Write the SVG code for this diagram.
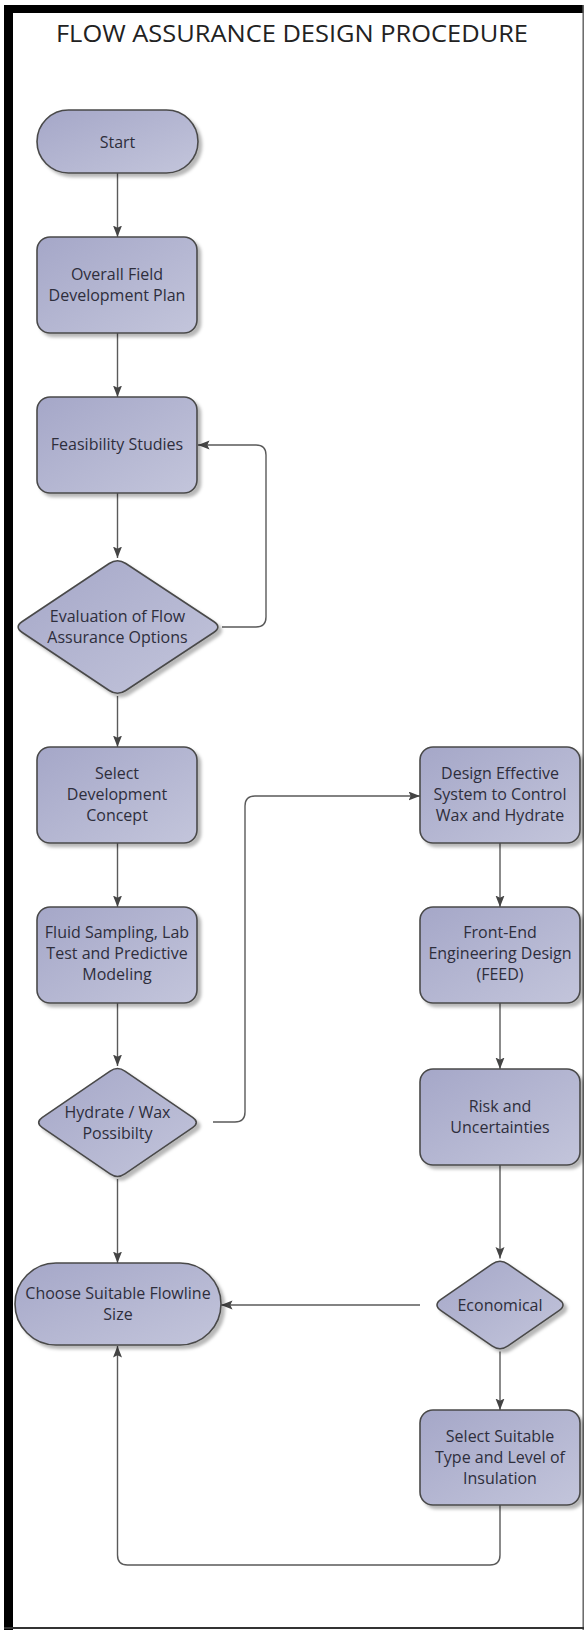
<svg xmlns="http://www.w3.org/2000/svg" width="584" height="1630" viewBox="0 0 584 1630">
<style>
.node{fill:url(#g);stroke:#4a4a4a;stroke-width:1.6;filter:url(#sh)}
.t{font-family:"Open Sans","DejaVu Sans",sans-serif;font-size:16px;fill:#2e2e3c;text-anchor:middle}
.c{fill:none;stroke:#5a5a5a;stroke-width:1.4}
.a{marker-end:url(#ah)}
</style>
<defs>
<linearGradient id="g" x1="0" y1="0" x2="1" y2="1">
<stop offset="0" stop-color="#a5a7c8"/>
<stop offset="1" stop-color="#c3c5db"/>
</linearGradient>
<filter id="sh" x="-10%" y="-10%" width="125%" height="130%">
<feDropShadow dx="3.5" dy="3.5" stdDeviation="1.8" flood-color="#000" flood-opacity="0.28"/>
</filter>
<marker id="ah" markerUnits="userSpaceOnUse" markerWidth="13" markerHeight="11" refX="11.5" refY="4.5" orient="auto">
<path d="M0,0 L11.5,4.5 L0,9 L2.2,4.5 Z" fill="#444"/>
</marker>
</defs>
<rect x="0" y="0" width="584" height="1630" fill="#fff"/>
<g id="frame">
<rect x="4" y="5" width="580" height="8" fill="#000"/>
<rect x="4" y="5" width="9" height="1625" fill="#000"/>
<line x1="583.2" y1="5" x2="583.2" y2="1630" stroke="#666" stroke-width="1.5"/>
<line x1="4" y1="1628" x2="584" y2="1628" stroke="#333" stroke-width="2"/>
</g>
<text id="title" x="292" y="41.7" font-family="'Open Sans','DejaVu Sans',sans-serif" font-size="24.5" fill="#222" text-anchor="middle" textLength="472" lengthAdjust="spacingAndGlyphs">FLOW ASSURANCE DESIGN PROCEDURE</text>
<g id="connectors">
<path class="c a" d="M117.5,173 V237"/>
<path class="c a" d="M117.5,333 V397"/>
<path class="c a" d="M117.5,493 V558"/>
<path class="c a" d="M222,627 H256 Q266,627 266,617 V455 Q266,445 256,445 H198"/>
<path class="c a" d="M117.5,696 V747"/>
<path class="c a" d="M117.5,843 V907"/>
<path class="c a" d="M117.5,1003 V1066"/>
<path class="c a" d="M213,1122 H235 Q245,1122 245,1112 V806 Q245,796 255,796 H420"/>
<path class="c a" d="M117.5,1179 V1263"/>
<path class="c a" d="M500,843 V907"/>
<path class="c a" d="M500,1003 V1069"/>
<path class="c a" d="M500,1165 V1258.5"/>
<path class="c a" d="M420,1305 H221"/>
<path class="c a" d="M500,1351.5 V1410"/>
<path class="c a" d="M500,1505 V1555 Q500,1565 490,1565 H127.5 Q117.5,1565 117.5,1555 V1346"/>
</g>
<g id="start">
<rect class="node" x="37" y="110" width="161" height="63" rx="31.5"/>
<text class="t" x="117.5" y="147.5">Start</text>
</g>
<g id="overall">
<rect class="node" x="37" y="237" width="160" height="96" rx="13"/>
<text class="t" x="117" y="280">Overall Field</text>
<text class="t" x="117" y="301">Development Plan</text>
</g>
<g id="feasibility">
<rect class="node" x="37" y="397" width="160" height="96" rx="13"/>
<text class="t" x="117" y="450">Feasibility Studies</text>
</g>
<g id="evaluation">
<path class="node" d="M109.2,563.5 Q117.5,558 125.8,563.5 L213.7,621.5 Q222,627 213.7,632.5 L125.8,690.5 Q117.5,696 109.2,690.5 L22.3,632.5 Q14,627 22.3,621.5 Z"/>
<text class="t" x="117.5" y="622">Evaluation of Flow</text>
<text class="t" x="117.5" y="643">Assurance Options</text>
</g>
<g id="select-concept">
<rect class="node" x="37" y="747" width="160" height="96" rx="13"/>
<text class="t" x="117" y="779">Select</text>
<text class="t" x="117" y="800">Development</text>
<text class="t" x="117" y="821">Concept</text>
</g>
<g id="fluid">
<rect class="node" x="37" y="907" width="160" height="96" rx="13"/>
<text class="t" x="117" y="938">Fluid Sampling, Lab</text>
<text class="t" x="117" y="959">Test and Predictive</text>
<text class="t" x="117" y="980">Modeling</text>
</g>
<g id="hydrate">
<path class="node" d="M110.1,1071.1 Q117.5,1066 124.9,1071.1 L192.6,1117.4 Q200,1122.5 192.6,1127.6 L124.9,1173.9 Q117.5,1179 110.1,1173.9 L42.4,1127.6 Q35,1122.5 42.4,1117.4 Z"/>
<text class="t" x="117.5" y="1117.5">Hydrate / Wax</text>
<text class="t" x="117.5" y="1138.5">Possibilty</text>
</g>
<g id="choose">
<rect class="node" x="15" y="1263" width="206" height="82" rx="41"/>
<text class="t" x="118" y="1299">Choose Suitable Flowline</text>
<text class="t" x="118" y="1320">Size</text>
</g>
<g id="design">
<rect class="node" x="420" y="747" width="160" height="96" rx="13"/>
<text class="t" x="500" y="779">Design Effective</text>
<text class="t" x="500" y="800">System to Control</text>
<text class="t" x="500" y="821">Wax and Hydrate</text>
</g>
<g id="feed">
<rect class="node" x="420" y="907" width="160" height="96" rx="13"/>
<text class="t" x="500" y="938">Front-End</text>
<text class="t" x="500" y="959">Engineering Design</text>
<text class="t" x="500" y="980">(FEED)</text>
</g>
<g id="risk">
<rect class="node" x="420" y="1069" width="160" height="96" rx="13"/>
<text class="t" x="500" y="1112">Risk and</text>
<text class="t" x="500" y="1133">Uncertainties</text>
</g>
<g id="economical">
<path class="node" d="M492,1264.1 Q500,1258.5 508,1264.1 L559,1299.4 Q567,1305 559,1310.6 L508,1345.9 Q500,1351.5 492,1345.9 L441,1310.6 Q433,1305 441,1299.4 Z"/>
<text class="t" x="500" y="1310.5">Economical</text>
</g>
<g id="insulation">
<rect class="node" x="420" y="1410" width="160" height="95" rx="13"/>
<text class="t" x="500" y="1442">Select Suitable</text>
<text class="t" x="500" y="1463">Type and Level of</text>
<text class="t" x="500" y="1484">Insulation</text>
</g>
</svg>
